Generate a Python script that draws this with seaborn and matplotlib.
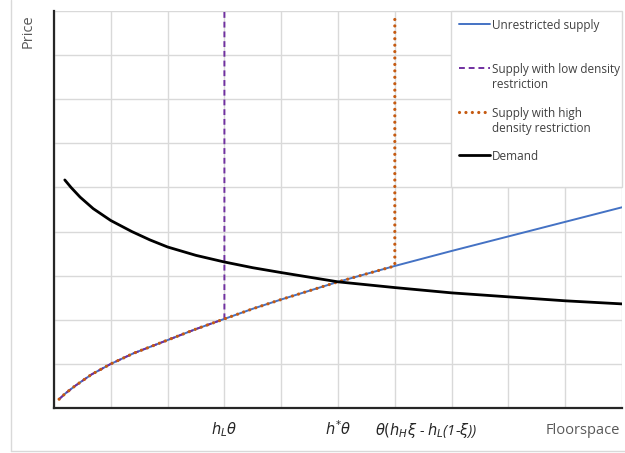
import matplotlib
matplotlib.use("Agg")
import matplotlib.pyplot as plt
import matplotlib.transforms as mtransforms
from matplotlib.lines import Line2D
from matplotlib.offsetbox import HPacker
import seaborn as sns
import numpy as np
import pandas as pd

# ---- data ----
supply_x = [0.09, 0.2, 0.37, 0.66, 1, 1.4, 2, 2.5, 3, 3.5, 4, 4.5, 5, 5.5, 6, 7, 8, 9, 10]
supply_y = [0.2, 0.33, 0.5, 0.76, 1.0, 1.24, 1.54, 1.79, 2.02, 2.25, 2.46, 2.66, 2.86, 3.04, 3.22, 3.56, 3.89, 4.22, 4.55]
demand_x = [0.19, 0.3, 0.46, 0.69, 1, 1.37, 1.69, 2, 2.5, 3, 3.5, 4, 5, 6, 7, 8, 9, 10]
demand_y = [5.17, 5.0, 4.78, 4.52, 4.25, 4.0, 3.81, 3.65, 3.46, 3.31, 3.18, 3.07, 2.86, 2.73, 2.61, 2.52, 2.43, 2.36]
low_cap = 3      # h_L theta
high_cap = 6     # theta(h_H xi - h_L(1-xi))
eq_x = 5         # h* theta
y_top = 9
x_max = 10

tick_pos = [low_cap, eq_x, high_cap]
tick_labels = [r"$h_L\theta$", r"$h^{*}\theta$", r"$\theta(h_H\xi$ - $h_L$(1-$\xi$))"]

labels = ["Unrestricted supply\n ",
          "Supply with low density\nrestriction",
          "Supply with high\ndensity restriction",
          "Demand\n "]

# build restricted supply series from read values
def restricted(cap, top):
    xs = [x for x in supply_x if x <= cap]
    ys = [y for x, y in zip(supply_x, supply_y) if x <= cap]
    return xs + [cap], ys + [top]

low_x, low_y = restricted(low_cap, y_top)
high_x, high_y = restricted(high_cap, 8.9)

sns.set_style("white")
plt.rcParams['font.family'] = ['Open Sans', 'DejaVu Sans']
plt.rcParams['mathtext.fontset'] = 'dejavusans'

fig = plt.figure(figsize=(6.25, 4.53), dpi=100)
ax = fig.add_axes([54/625, 1-408/453, 568/625, 397/453])

sns.lineplot(x=supply_x, y=supply_y, ax=ax, color="#4472C4", lw=1.4,
             estimator=None, sort=False, label=labels[0])
sns.lineplot(x=low_x, y=low_y, ax=ax, color="#7030A0", lw=1.4,
             estimator=None, sort=False, label=labels[1], linestyle=(0, (3, 2)))
sns.lineplot(x=high_x, y=high_y, ax=ax, color="#C55A11", lw=2.3,
             estimator=None, sort=False, label=labels[2],
             linestyle=(0, (0.01, 2.0)), dash_capstyle='round')
sns.lineplot(x=demand_x, y=demand_y, ax=ax, color="black", lw=2.0,
             estimator=None, sort=False, label=labels[3])

ax.set_xlim(0, x_max)
ax.set_ylim(0, y_top)
ax.set_xticks(np.arange(0, x_max + 1), minor=True)
ax.set_yticks(np.arange(0, y_top + 1), minor=True)
ax.set_yticks([])
ax.set_xticks(tick_pos)
ax.set_xticklabels(tick_labels, fontsize=10.5, fontstyle='italic')
ax.grid(True, which='both', color='#D9D9D9', lw=1.0)
ax.set_axisbelow(True)
ax.tick_params(axis='x', which='major', length=5, width=1, color='#595959', pad=4, direction='out')
ax.tick_params(axis='both', which='minor', length=0)
for s in ['top', 'right']:
    ax.spines[s].set_visible(False)
for s in ['left', 'bottom']:
    ax.spines[s].set_color('#262626')
    ax.spines[s].set_linewidth(1.6)

# shift the long third label like the reference
lbl = ax.get_xticklabels()[2]
lbl.set_ha('left')
lbl.set_transform(lbl.get_transform() + mtransforms.ScaledTranslation(-20/100, 0, fig.dpi_scale_trans))

ax.set_xlabel("")
ax.set_ylabel("")
fig.text(620/625, 1-431/453, "Floorspace", ha='right', va='center', fontsize=10.5, color='#595959')
fig.text(28/625, 1-31/453, "Price", ha='center', va='center', rotation=90, fontsize=10.5, color='#595959')

leg = ax.legend(loc='upper left', bbox_to_anchor=(397/568, 0, 171/568, 1.0), mode='expand',
                fontsize=8.5, frameon=True, fancybox=False, framealpha=1,
                edgecolor='#D9D9D9', handlelength=2.6, handletextpad=0.15,
                labelspacing=1.33, borderpad=0.7, handleheight=1.2, borderaxespad=0)
leg.get_frame().set_linewidth(1.0)
for t in leg.get_texts():
    t.set_color('#404040')
try:
    for col in leg._legend_handle_box.get_children():
        for row in col.get_children():
            if isinstance(row, HPacker):
                row.align = 'top'
except Exception:
    pass

# outer light border
fig.add_artist(Line2D([11/625, 11/625], [2/453, 1.0], transform=fig.transFigure, color='#D9D9D9', lw=1))
fig.add_artist(Line2D([11/625, 1.0], [2/453, 2/453], transform=fig.transFigure, color='#D9D9D9', lw=1))

fig.savefig("out.png", dpi=100)
